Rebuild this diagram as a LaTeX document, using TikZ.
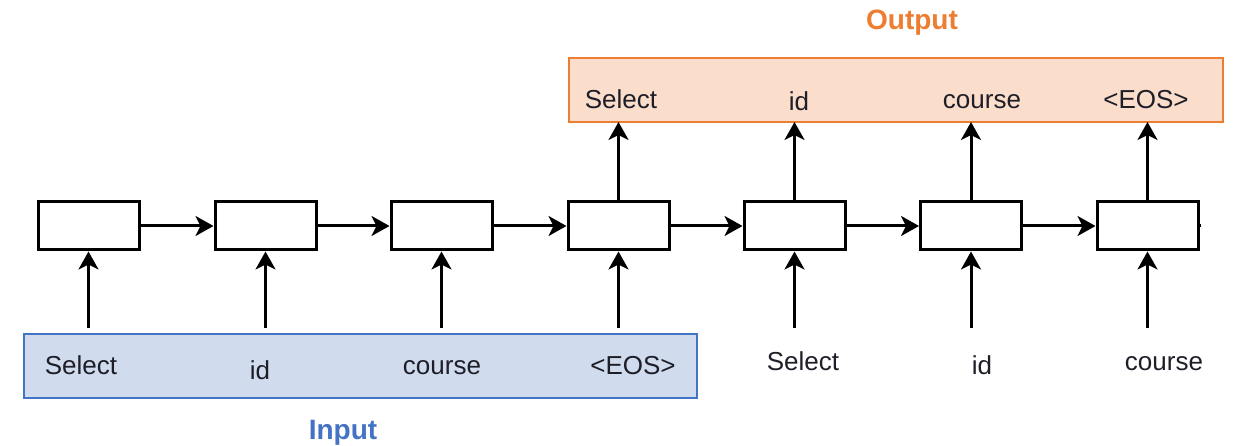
\documentclass[tikz,border=0pt]{standalone}
\usepackage{fontspec}
\setmainfont{Liberation Sans}
\usetikzlibrary{arrows.meta}
\definecolor{inblue}{HTML}{4472C4}
\definecolor{infill}{HTML}{D0DCEE}
\definecolor{outorange}{HTML}{ED7D31}
\definecolor{outfill}{HTML}{FADDCB}
\definecolor{txtdark}{HTML}{1E1E28}
\tikzset{
  cell/.style={draw=black, line width=3pt, minimum width=101pt, minimum height=48pt, inner sep=0pt, fill=white},
  conn/.style={line width=3pt, -{Stealth[length=18pt,width=20pt,inset=5pt]}},
  tok/.style={font=\fontsize{26}{30}\selectfont, text=txtdark, inner sep=0pt, anchor=base},
  title/.style={font=\fontsize{28}{32}\selectfont\bfseries, inner sep=0pt},
}
\begin{document}
\begin{tikzpicture}[x=1pt,y=-1pt]
\useasboundingbox (0,0) rectangle (1243,446);
% frames
\draw[draw=outorange, fill=outfill, line width=1.6pt] (569,58) rectangle (1223,122);
\draw[draw=inblue, fill=infill, line width=1.6pt] (24,334) rectangle (697,398);
\coordinate (obot) at (0,122);
% cells
\foreach \i/\x in {1/88.5,2/265.5,3/441.5,4/618.5,5/794.5,6/971,7/1147.5}{
  \node[cell] (c\i) at (\x,226) {};
  \coordinate (in\i) at (\x,328);
}
\foreach \i/\j in {1/2,2/3,3/4,4/5,5/6,6/7}{
  \draw[conn] (c\i.east) -- (c\j.west);
}
\foreach \i in {1,...,7}{
  \draw[conn] (in\i) -- (c\i.south);
}
\coordinate (stub) at (1201,226);
\draw[line width=3pt] (c7.east) -- (stub);
\foreach \i in {4,5,6,7}{
  \coordinate (o\i) at (c\i.north |- obot);
  \draw[conn] (c\i.north) -- (o\i);
}
% input tokens
\node[tok] (i1) at (81,375) {Select};
\node[tok] (i2) at (260,380) {id};
\node[tok] (i3) at (442,375) {course};
\node[tok] (i4) at (633,375) {<EOS>};
\node[tok] (e5) at (803,371) {Select};
\node[tok] (e6) at (982,375) {id};
\node[tok] (e7) at (1164,371) {course};
% output tokens
\node[tok] (y4) at (621,109) {Select};
\node[tok] (y5) at (799,111) {id};
\node[tok] (y6) at (982,109) {course};
\node[tok] (y7) at (1146,109) {<EOS>};
% titles
\node[title, text=outorange] (outlbl) at (912,23) {Output};
\node[title, text=inblue] (inlbl) at (343,433) {Input};
\end{tikzpicture}
\end{document}
